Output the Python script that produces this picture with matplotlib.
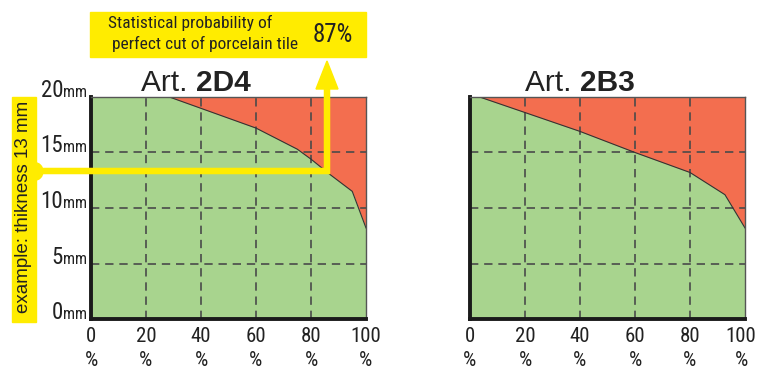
import matplotlib
matplotlib.use("Agg")
import matplotlib.pyplot as plt
from matplotlib import font_manager
from matplotlib.patches import Rectangle, Polygon, Circle
from matplotlib.transforms import ScaledTranslation

# limit curves: probability of perfect cut (%) vs max tile thickness (mm)
pct_2d4 = [0, 28.5, 60, 75, 80, 87, 95, 100]
mm_2d4 = [20, 20, 17.2, 15.3, 14.4, 13.0, 11.5, 8.2]
pct_2b3 = [0, 3.5, 20, 40, 60, 80, 92.7, 100]
mm_2b3 = [20, 20, 18.6, 16.9, 15.0, 13.2, 11.2, 8.2]

x_ticks = [0, 20, 40, 60, 80, 100]
y_ticks = [0, 5, 10, 15, 20]
titles = ["2D4", "2B3"]

example_mm = 13
example_pct = 87
example_text = "example: thikness 13 mm"
box_lines = ["Statistical probability of", "perfect cut of porcelain tile"]

GREEN = "#a8d48e"
RED = "#f36e4f"
YELLOW = "#ffec00"
GRID = "#4a4a4a"
INK = "#222222"


def pick_font(names):
    for n in names:
        try:
            font_manager.findfont(n, fallback_to_default=False)
            return n
        except Exception:
            pass
    return "DejaVu Sans"


NARROW = pick_font(["Liberation Sans Narrow", "Roboto Condensed", "Liberation Sans"])
SANS = pick_font(["Liberation Sans", "DejaVu Sans"])

W, H = 759, 379
fig = plt.figure(figsize=(W / 100, H / 100), dpi=100)


def panel(left_px, pct, mm):
    ax = fig.add_axes([left_px / W, 1 - 319 / H, 275 / W, 222 / H])
    ax.set_facecolor(RED)
    ax.fill_between(pct, mm, 0, color=GREEN, lw=0, zorder=1)
    ax.plot(pct, mm, color="#333333", lw=0.8, zorder=3)
    for v in x_ticks[1:-1]:
        ax.axvline(v, color=GRID, lw=1.2, dashes=(5, 3.5), zorder=2)
    for v in y_ticks[1:-1]:
        ax.axhline(v, color=GRID, lw=1.2, dashes=(5, 3.5), zorder=2)
    ax.set_xlim(0, 100)
    ax.set_ylim(0, 20)
    ax.set_xticks(x_ticks)
    ax.set_xticklabels([f"{v}\n%" for v in x_ticks], fontfamily=NARROW,
                       fontsize=15, linespacing=1.28, color=INK)
    ax.set_yticks([])
    ax.tick_params(axis="x", length=0, pad=6)
    for s in ["left", "bottom"]:
        ax.spines[s].set_linewidth(2.8)
        ax.spines[s].set_color("#1a1a1a")
    for s in ["top", "right"]:
        ax.spines[s].set_linewidth(1.0)
        ax.spines[s].set_color("#555555")
    for s in ax.spines.values():
        s.set_zorder(5)
    return ax


ax1 = panel(91, pct_2d4, mm_2d4)
ax2 = panel(470, pct_2b3, mm_2b3)

# keep the last "100" label inside the figure
last = ax2.get_xticklabels()[-1]
last.set_transform(last.get_transform() + ScaledTranslation(-4 / 100, 0, fig.dpi_scale_trans))

# overlay in pixel coordinates (origin top-left) for labels and callouts
ov = fig.add_axes([0, 0, 1, 1], facecolor="none")
ov.set_xlim(0, W)
ov.set_ylim(H, 0)
ov.axis("off")


def to_px(ax, x, y):
    d = ax.transData.transform((x, y))
    return ov.transData.inverted().transform(d)


# titles
for name, split in [(titles[0], 196), (titles[1], 580)]:
    ov.text(split, 91, "Art. ", ha="right", va="baseline", fontsize=21.5,
            fontfamily=SANS, color=INK)
    ov.text(split, 91, name, ha="left", va="baseline", fontsize=21.5,
            fontfamily=SANS, fontweight="bold", color=INK)

# y labels on left panel
for v in y_ticks:
    _, py = to_px(ax1, 0, v)
    ov.text(63, py, str(v), ha="right", va="baseline", fontsize=16.5,
            fontfamily=NARROW, color=INK)
    ov.text(63.5, py, "mm", ha="left", va="baseline", fontsize=11.5,
            fontfamily=NARROW, color=INK)

# example callout
cx, cy = to_px(ax1, example_pct, example_mm)
lw_px = 6.5
lx = cx - lw_px / 2
ly = cy - lw_px / 2
ov.add_patch(Rectangle((12, 97), 24, 225, color=YELLOW, zorder=6))
ov.add_patch(Circle((34, ly), 9, color=YELLOW, zorder=6))
ov.text(24, 207, example_text, rotation=90, ha="center", va="center",
        fontsize=13.5, fontfamily=SANS, color=INK, zorder=7)
ov.plot([36, lx, lx], [ly, ly, 88], color=YELLOW, lw=lw_px / 1.389,
        solid_joinstyle="miter", solid_capstyle="butt", zorder=6)
ov.add_patch(Polygon([(lx, 61), (lx - 11, 89), (lx + 11, 89)], closed=True,
                     color=YELLOW, zorder=6))

ov.add_patch(Rectangle((90, 12), 276, 45, color=YELLOW, zorder=6))
ov.text(108, 28, box_lines[0], ha="left", va="baseline", fontsize=12.5,
        fontfamily=NARROW, color=INK, zorder=7)
ov.text(112, 49, box_lines[1], ha="left", va="baseline", fontsize=12.5,
        fontfamily=NARROW, color=INK, zorder=7)
ov.text(353, 42, f"{example_pct}%", ha="right", va="baseline", fontsize=18,
        fontfamily=NARROW, color=INK, zorder=7)

fig.savefig("out.png", dpi=100)
